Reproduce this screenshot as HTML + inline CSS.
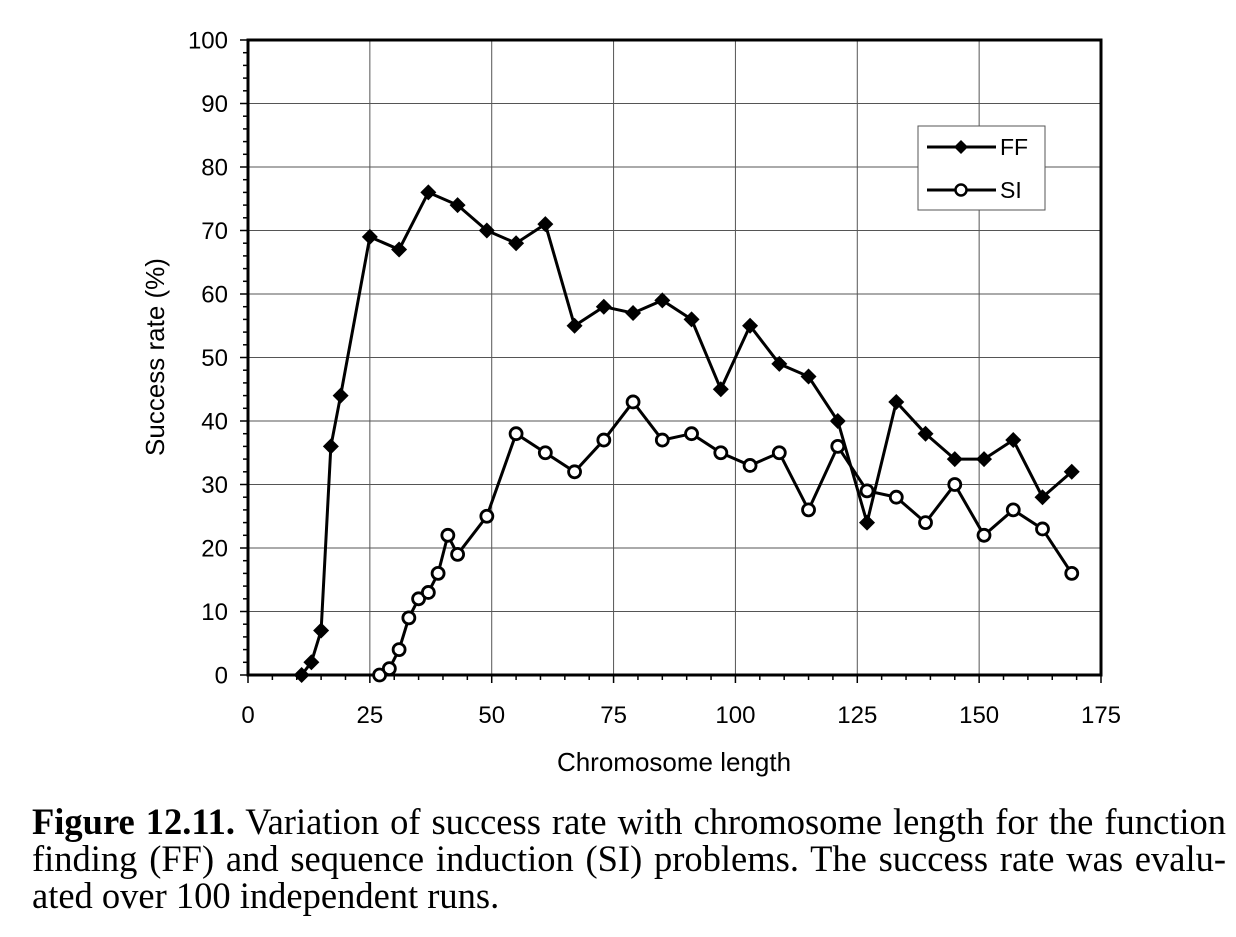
<!DOCTYPE html>
<html><head><meta charset="utf-8"><style>
body{margin:0;background:#fff;width:1236px;height:937px;overflow:hidden}
svg text{font-family:"Liberation Sans",sans-serif}
.cap{position:absolute;left:32px;top:803px;width:1194px;font-family:"Liberation Serif",serif;font-size:36.5px;line-height:37px;color:#000}
.cap span{display:block;white-space:nowrap}
.cap .j{text-align:justify;text-align-last:justify}
</style></head><body>
<svg id="chart" width="1236" height="800" style="position:absolute;left:0;top:0"></svg>
<div class="cap"><span class="j"><b>Figure 12.11.</b> Variation of success rate with chromosome length for the function</span><span class="j">finding (FF) and sequence induction (SI) problems. The success rate was evalu-</span><span>ated over 100 independent runs.</span></div>
<script>
const xTicks=[0,25,50,75,100,125,150,175];
const yTicks=[0,10,20,30,40,50,60,70,80,90,100];
const ffX=[11,13,15,17,19,25,31,37,43,49,55,61,67,73,79,85,91,97,103,109,115,121,127,133,139,145,151,157,163,169];
const ffY=[0,2,7,36,44,69,67,76,74,70,68,71,55,58,57,59,56,45,55,49,47,40,24,43,38,34,34,37,28,32];
const siX=[27,29,31,33,35,37,39,41,43,49,55,61,67,73,79,85,91,97,103,109,115,121,127,133,139,145,151,157,163,169];
const siY=[0,1,4,9,12,13,16,22,19,25,38,35,32,37,43,37,38,35,33,35,26,36,29,28,24,30,22,26,23,16];
const L=248,R=1101,T=40,B=675;
const sx=v=>L+(v/175)*(R-L), sy=v=>B-(v/100)*(B-T);
const svg=document.getElementById('chart');const NS='http://www.w3.org/2000/svg';
function mk(t,a,p){const e=document.createElementNS(NS,t);for(const k in a)e.setAttribute(k,a[k]);(p||svg).appendChild(e);return e;}
const g=mk('g',{});


xTicks.forEach(v=>{if(v>0&&v<175)mk('line',{x1:sx(v),x2:sx(v),y1:T,y2:B,stroke:'#555','stroke-width':1},g);});
yTicks.forEach(v=>{if(v>0&&v<100)mk('line',{x1:L,x2:R,y1:sy(v),y2:sy(v),stroke:'#555','stroke-width':1},g);});
const ax=mk('g',{});


mk('rect',{x:L,y:T,width:R-L,height:B-T,fill:'none',stroke:'#000','stroke-width':3},ax);
for(let v=0;v<=100;v+=2){const w=v%10==0?8:5;mk('line',{x1:L-w,x2:L,y1:sy(v),y2:sy(v),stroke:'#000','stroke-width':1.5},ax);}
for(let v=0;v<=175;v+=5){const w=v%25==0?8:5;mk('line',{x1:sx(v),x2:sx(v),y1:B,y2:B+w,stroke:'#000','stroke-width':1.5},ax);}
yTicks.forEach(v=>{const t=mk('text',{x:L-20,y:sy(v)+8.5,'text-anchor':'end','font-size':24},ax);t.textContent=v;

});
xTicks.forEach(v=>{const t=mk('text',{x:sx(v),y:B+48,'text-anchor':'middle','font-size':24},ax);t.textContent=v;

});
const xt=mk('text',{x:674,y:771,'text-anchor':'middle','font-size':26});xt.textContent='Chromosome length';


const yt=mk('text',{x:164,y:357,'text-anchor':'middle','font-size':26,transform:'rotate(-90 164 357)'});yt.textContent='Success rate (%)';


function diamond(x,y,s,p){return mk('polygon',{points:`${x},${y-s} ${x+s},${y} ${x},${y+s} ${x-s},${y}`,fill:'#000'},p);}
const ff=mk('g',{});


mk('polyline',{points:ffX.map((x,i)=>sx(x)+','+sy(ffY[i])).join(' '),fill:'none',stroke:'#000','stroke-width':3},ff);
ffX.forEach((x,i)=>{const d=diamond(sx(x),sy(ffY[i]),8,ff);

});
const si=mk('g',{});


mk('polyline',{points:siX.map((x,i)=>sx(x)+','+sy(siY[i])).join(' '),fill:'none',stroke:'#000','stroke-width':3},si);
siX.forEach((x,i)=>{const c=mk('circle',{cx:sx(x),cy:sy(siY[i]),r:6,fill:'#fff',stroke:'#000','stroke-width':2.8},si);

});
const lg=mk('g',{});


mk('rect',{x:918,y:126,width:127,height:84,fill:'#fff',stroke:'#555','stroke-width':1},lg);
mk('line',{x1:927,x2:996,y1:147,y2:147,stroke:'#000','stroke-width':3},lg);diamond(961,147,7,lg);
const t1=mk('text',{x:1000,y:155,'font-size':23},lg);t1.textContent='FF';
mk('line',{x1:927,x2:996,y1:190,y2:190,stroke:'#000','stroke-width':3},lg);mk('circle',{cx:961,cy:190,r:5.5,fill:'#fff',stroke:'#000','stroke-width':2.5},lg);
const t2=mk('text',{x:1000,y:198,'font-size':23},lg);t2.textContent='SI';
document.querySelectorAll('.cap span').forEach(s=>{
  const r=document.createRange();r.selectNodeContents(s);
  const w=r.getBoundingClientRect().width;
  if(w>1194){const n=s.textContent.length;s.style.letterSpacing=((1194-w)/n)+'px';}
});
</script>
</body></html>
